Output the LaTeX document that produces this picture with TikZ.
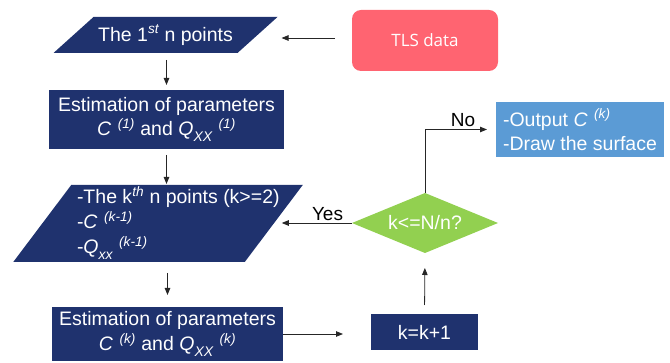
\documentclass[tikz,border=0pt]{standalone}
\usepackage{fontspec}
\setmainfont{Liberation Sans}
\newfontfamily\tlsfont{Open Sans}
\usetikzlibrary{shapes.geometric,arrows.meta,backgrounds}
\definecolor{navy}{HTML}{1F326E}
\definecolor{lgreen}{HTML}{92D050}
\definecolor{lblue}{HTML}{5B9BD5}
\definecolor{salmon}{HTML}{FF6471}
% italic letter, italic superscript, italic lowered subscript
\newcommand\ital[1]{\textit{#1}}
\newcommand\supi[1]{\textsuperscript{\itshape #1}}
\newcommand\subi[1]{\raisebox{-0.3em}{\fontsize{14}{14}\selectfont\itshape #1}}
\begin{document}
\begin{tikzpicture}[x=1pt,y=-1pt,
  base/.style={font=\fontsize{19.5}{24}\selectfont, text=white, inner sep=0pt, outer sep=0pt},
  navybox/.style={base, fill=navy, align=center},
  lbl/.style={font=\fontsize{19}{22}\selectfont, text=black, inner sep=0pt},
  arr/.style={draw=black!85, line width=0.8pt, -{Triangle[length=7pt,width=5.5pt]}}]
\useasboundingbox (0,0) rectangle (670,363);

% input / process nodes
\node[base, minimum width=184, minimum height=36] (p1) at (165.5,35) {The 1\supi{st} n points};
\node[navybox, minimum width=235, minimum height=59] (e1) at (166.5,119.5)
  {Estimation of parameters\\ \ital{C}\,\,\supi{(1)} and \ital{Q}\subi{XX}\,\,\supi{(1)}};
\node[base, minimum width=231.5, minimum height=77] (p2) at (158,223.5) {};
\node[base, align=left, anchor=west, font=\fontsize{19.5}{25}\selectfont] (p2t) at (77,223)
  {-The k\supi{th} n points (k>=2)\\ -\ital{C}\,\,\supi{(k-1)}\\ -\ital{Q}\subi{xx}\,\,\supi{(k-1)}};
\node[navybox, minimum width=231, minimum height=54, font=\fontsize{19.5}{25}\selectfont] (e2) at (167.5,334)
  {Estimation of parameters\\ \ital{C}\,\,\supi{(k)} and \ital{Q}\subi{XX}\,\,\supi{(k)}};
\node[navybox, minimum width=107, minimum height=36] (kb) at (424.5,332) {k=k+1};
\node[base, diamond, aspect=2.43, fill=lgreen, minimum width=146, minimum height=60] (dec) at (425,223) {k<=N/n?};
\node[base, fill=lblue, minimum width=168, minimum height=55, align=left, anchor=west] (out) at (496,129.5)
  {-Output \ital{C}\,\,\supi{(k)}\\ -Draw the surface};
\node[base, rounded corners=9pt, fill=salmon, minimum width=146, minimum height=61,
  font=\tlsfont\fontsize{17}{20}\selectfont] (tls) at (425,40.5) {TLS data};

% parallelogram bodies behind the input nodes
\begin{pgfonlayer}{background}
\fill[navy] ([xshift=20pt]p1.north west) -- ([xshift=20pt]p1.north east)
  -- ([xshift=-20pt]p1.south east) -- ([xshift=-20pt]p1.south west) -- cycle;
\fill[navy] ([xshift=29pt]p2.north west) -- ([xshift=29pt]p2.north east)
  -- ([xshift=-29pt]p2.south east) -- ([xshift=-29pt]p2.south west) -- cycle;
\end{pgfonlayer}

% connectors
\coordinate (tlsa) at ([yshift=2.5pt]tls.west);
\draw[arr, shorten <=17pt, shorten >=24pt] (tlsa) -- (tlsa -| p1.east);
\draw[arr, shorten <=7pt, shorten >=5pt] (e1.north |- p1.south) -- (e1.north);
\draw[arr, shorten <=6pt, shorten >=1pt] (e1.south) -- (e1.south |- p2.north);
\draw[arr, shorten <=11pt, shorten >=12pt] (e2.north |- p2.south) -- (e2.north);
\draw[arr, shorten >=28pt] (e2.east) -- (e2.east -| kb.west);
\draw[arr, shorten <=9pt, shorten >=15pt] (kb.north) -- (dec.south);
\draw[arr, shorten >=8pt] (dec.west) -- (dec.west -| p2.east);
\draw[arr, shorten >=9pt] (dec.north) |- (out.west);

% branch labels
\node[lbl] (yes) at (327.5,214) {Yes};
\node[lbl] (no) at (463,120) {No};
\end{tikzpicture}
\end{document}
